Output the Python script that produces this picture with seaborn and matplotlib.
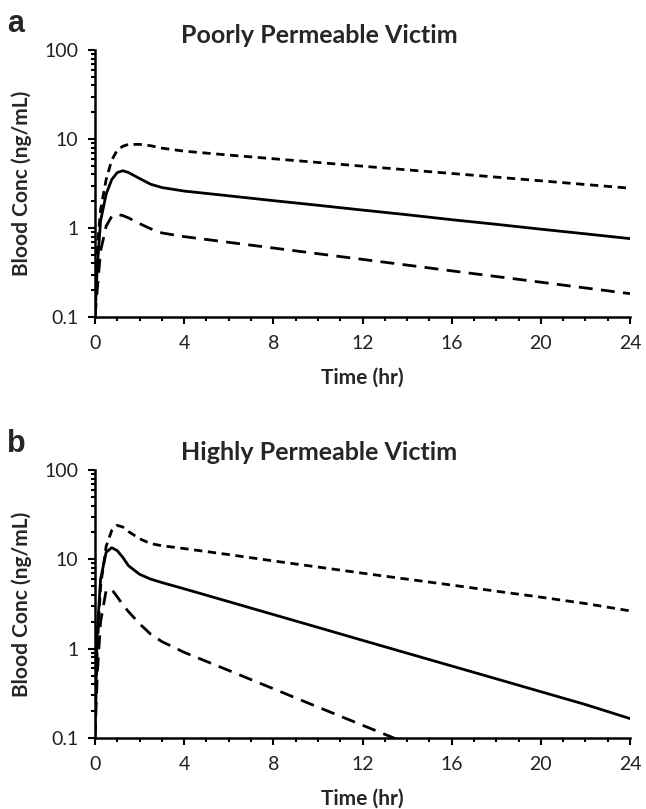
import numpy as np
import pandas as pd
import matplotlib
matplotlib.use("Agg")
import matplotlib.pyplot as plt
import matplotlib.ticker as mticker
import seaborn as sns

# ---- data ----
times = [0, 0.1, 0.25, 0.5, 0.75, 1, 1.25, 1.5, 2, 2.5, 3, 4, 6, 8, 10, 12, 14, 16, 18, 20, 22, 24]

a_upper = [0.12, 0.6, 1.6, 3.5, 5.8, 7.5, 8.3, 8.7, 8.7, 8.4, 7.9, 7.3, 6.6, 6.0, 5.45, 4.95, 4.5, 4.1, 3.73, 3.39, 3.08, 2.8]
a_mid = [0.1, 0.35, 1.2, 2.4, 3.5, 4.2, 4.4, 4.2, 3.6, 3.1, 2.85, 2.6, 2.30, 2.03, 1.80, 1.59, 1.41, 1.24, 1.10, 0.97, 0.86, 0.76]
a_lower = [0.1, 0.2, 0.55, 1.05, 1.35, 1.42, 1.38, 1.3, 1.12, 0.98, 0.88, 0.80, 0.69, 0.596, 0.514, 0.444, 0.383, 0.33, 0.285, 0.246, 0.212, 0.183]

b_upper = [0.12, 1.0, 5.0, 14.0, 21.0, 24.0, 23.0, 20.5, 17.0, 15.0, 14.2, 13.2, 11.3, 9.6, 8.2, 7.0, 6.0, 5.15, 4.4, 3.77, 3.2, 2.65]
b_mid = [0.13, 1.5, 6.0, 12.0, 13.5, 12.5, 10.5, 8.5, 6.8, 6.0, 5.5, 4.68, 3.36, 2.41, 1.73, 1.24, 0.89, 0.64, 0.46, 0.33, 0.237, 0.165]
b_lower = [0.1, 0.5, 2.0, 4.5, 4.6, 3.8, 3.1, 2.6, 1.9, 1.45, 1.2, 0.91, 0.57, 0.356, 0.222, 0.139, 0.087, 0.054, 0.034, 0.021, 0.013, 0.008]

series_names = ["upper", "mid", "lower"]
titles = ["Poorly Permeable Victim", "Highly Permeable Victim"]
letters = ["a", "b"]
x_ticks = [0, 4, 8, 12, 16, 20, 24]
y_ticks = [0.1, 1, 10, 100]
x_label = "Time (hr)"
y_label = "Blood Conc (ng/mL)"

sns.set_style("ticks")
plt.rcParams["font.family"] = ["Lato", "DejaVu Sans"]


def make_df(up, mid, low):
    frames = []
    for name, vals in zip(series_names, [up, mid, low]):
        frames.append(pd.DataFrame({"t": times, "conc": vals, "series": name}))
    return pd.concat(frames, ignore_index=True)


dfs = [make_df(a_upper, a_mid, a_lower), make_df(b_upper, b_mid, b_lower)]

W, H = 646, 809
fig = plt.figure(figsize=(W / 100, H / 100), dpi=100)

axes_pix = [(50, 317), (470, 738)]  # top, bottom in pixels
left_px, right_px = 95, 630
letter_base = [32, 452]
title_base = [43, 460]

dash_map = {"upper": (3.0, 2.0), "mid": "", "lower": (5.0, 3.0)}

for i, (df, (top, bot)) in enumerate(zip(dfs, axes_pix)):
    ax = fig.add_axes([left_px / W, 1 - bot / H, (right_px - left_px) / W, (bot - top) / H])
    sns.lineplot(data=df, x="t", y="conc", style="series", dashes=dash_map,
                 color="black", linewidth=2.0, legend=False, ax=ax,
                 style_order=series_names)
    ax.set_yscale("log")
    ax.set_ylim(0.1, 100)
    ax.set_xlim(0, 24)
    ax.set_xticks(x_ticks)
    ax.xaxis.set_minor_locator(mticker.MultipleLocator(1))
    ax.set_yticks(y_ticks)
    ax.yaxis.set_major_formatter(mticker.FuncFormatter(lambda v, p: f"{v:g}"))
    ax.yaxis.set_minor_locator(mticker.LogLocator(base=10, subs=np.arange(2, 10)))
    ax.yaxis.set_minor_formatter(mticker.NullFormatter())
    for s in ["top", "right"]:
        ax.spines[s].set_visible(False)
    for s in ["left", "bottom"]:
        ax.spines[s].set_linewidth(1.8)
        ax.spines[s].set_color("black")
    ax.tick_params(axis="both", which="major", length=5, width=1.5, colors="black",
                   labelsize=14, labelcolor="#222222")
    ax.tick_params(axis="x", which="major", pad=8)
    ax.tick_params(axis="y", which="major", pad=7)
    ax.tick_params(axis="both", which="minor", length=3, width=1.5, colors="black")
    ax.set_xlabel(x_label, fontsize=15, fontweight="bold")
    ax.set_ylabel(y_label, fontsize=15, fontweight="bold")
    h = bot - top
    ax.xaxis.set_label_coords(0.5, -(61 / h))
    ax.yaxis.set_label_coords((22 - left_px) / (right_px - left_px), 0.5)
    ax.xaxis.label.set_va("center")
    ax.yaxis.label.set_va("center")
    # title and panel letter
    fig.text(319 / W, 1 - title_base[i] / H, titles[i], ha="center", va="baseline",
             fontsize=18, fontweight="bold")
    fig.text(16 / W, 1 - letter_base[i] / H, letters[i], ha="center", va="baseline",
             fontsize=22, fontweight="bold", family=["Liberation Sans", "DejaVu Sans"])

fig.savefig("out.png", dpi=100, facecolor="white")
